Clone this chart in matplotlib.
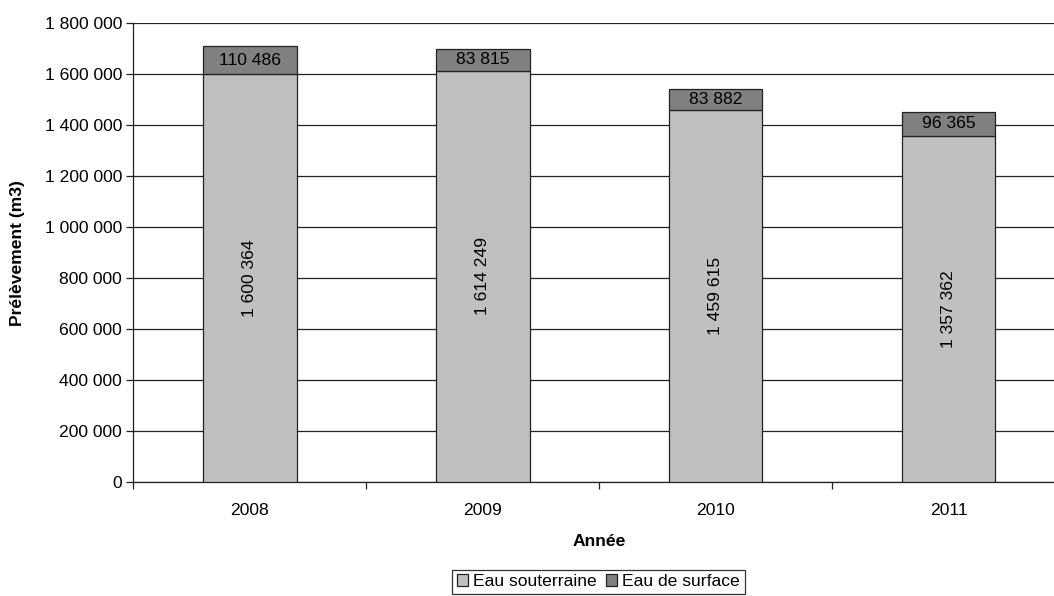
import matplotlib
matplotlib.use("Agg")
import matplotlib.pyplot as plt
import numpy as np
from matplotlib.ticker import FuncFormatter, MultipleLocator, FixedLocator

plt.rcParams['font.family'] = ['Liberation Sans', 'DejaVu Sans']

years = ["2008", "2009", "2010", "2011"]
eau_souterraine = [1600364, 1614249, 1459615, 1357362]
eau_surface = [110486, 83815, 83882, 96365]

def fmt(v):
    return f"{int(v):,}".replace(",", " ")

FS = 12.6
fig = plt.figure(figsize=(10.54, 5.96), dpi=100)
ax = fig.add_axes([133.3/1054, 1-482/596, (1065-133.3)/1054, (482-23.3)/596])

x = np.arange(len(years))
w = 0.402
b1 = ax.bar(x, eau_souterraine, w, color="#C0C0C0", edgecolor="#222222", linewidth=0.9,
            label="Eau souterraine", zorder=3)
b2 = ax.bar(x, eau_surface, w, bottom=eau_souterraine, color="#808080", edgecolor="#222222",
            linewidth=0.9, label="Eau de surface", zorder=3)

for xi, g, s in zip(x, eau_souterraine, eau_surface):
    ax.text(xi, g/2, fmt(g), rotation=90, ha="center", va="center", fontsize=FS, zorder=4)
    ax.text(xi, g + s/2, fmt(s), ha="center", va="center", fontsize=FS, zorder=4)

ax.set_ylim(0, 1800000)
ax.set_xlim(-0.5, len(years)-0.5)
ax.yaxis.set_major_locator(MultipleLocator(200000))
ax.yaxis.set_major_formatter(FuncFormatter(lambda v, p: fmt(v)))
ax.grid(axis="y", color="#222222", linewidth=0.9, zorder=0)

ax.set_xticks(x)
ax.set_xticklabels(years)
ax.tick_params(axis="x", which="major", length=0, pad=15, labelsize=FS)
ax.xaxis.set_minor_locator(FixedLocator(np.arange(-0.5, len(years), 1.0)))
ax.tick_params(axis="x", which="minor", length=5, width=0.9, direction="out", color="#222222")
ax.tick_params(axis="y", length=5, width=0.9, direction="out", labelsize=FS, pad=3, color="#222222")

for sp in ["top", "right"]:
    ax.spines[sp].set_visible(False)
for sp in ["left", "bottom"]:
    ax.spines[sp].set_linewidth(0.9)
    ax.spines[sp].set_color("#222222")

ax.set_ylabel("Prélèvement (m3)", fontsize=FS, fontweight="bold", labelpad=14)
ax.set_xlabel("Année", fontsize=FS, fontweight="bold", labelpad=12)

leg = fig.legend(handles=[b1, b2], loc="upper center", bbox_to_anchor=(598.5/1054, 1-570/596),
                 ncol=2, fontsize=FS, frameon=True, fancybox=False, edgecolor="black",
                 handlelength=0.65, handleheight=0.65, handletextpad=0.3, columnspacing=0.5,
                 borderpad=0.25, borderaxespad=0)
leg.get_frame().set_linewidth(0.9)

fig.savefig("out.png", dpi=100)
